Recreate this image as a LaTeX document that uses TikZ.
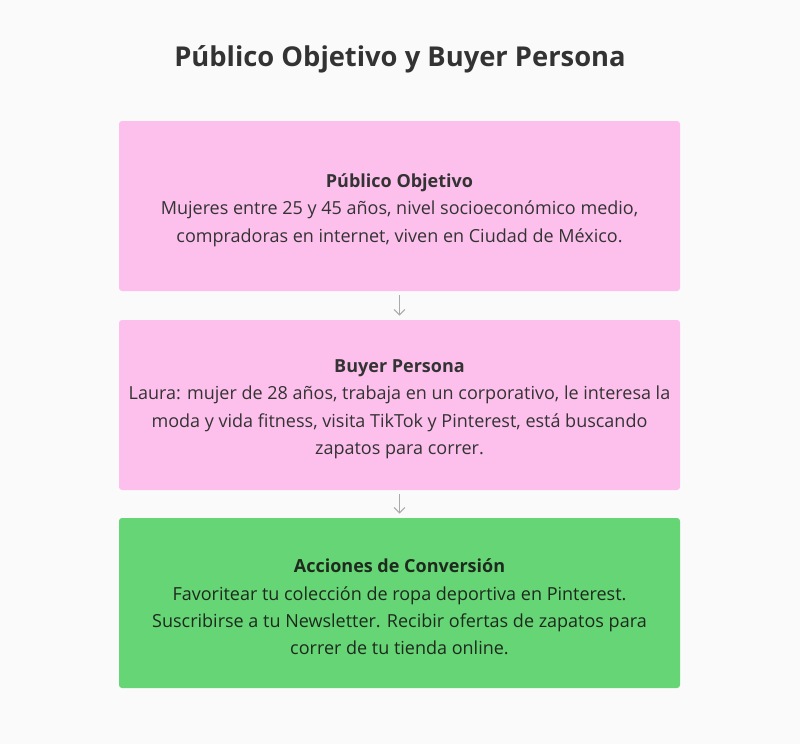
\documentclass[tikz,border=0pt]{standalone}
\usepackage{fontspec}
\setmainfont{Open Sans}
\usetikzlibrary{arrows.meta}
\definecolor{bg}{HTML}{FAFAFA}
\definecolor{pinkbox}{HTML}{FDC0EC}
\definecolor{greenbox}{HTML}{66D575}
\definecolor{txt}{HTML}{333333}
\definecolor{txtg}{HTML}{1E2A1E}
\definecolor{arr}{HTML}{AAAAAA}
\tikzset{
  card/.style={draw=none, rounded corners=2.25pt, minimum width=420.75pt, minimum height=127.5pt, inner sep=0pt},
  cardtext/.style={align=center, font=\fontsize{13.5pt}{20.6pt}\selectfont, text=txt, inner sep=0pt},
  flowarrow/.style={draw=arr, line width=0.9pt, -{Straight Barb[length=4pt,width=8pt]}},
}
\begin{document}
\begin{tikzpicture}[x=0.75pt,y=-0.75pt]
\fill[bg] (0,0) rectangle (800,744);
\useasboundingbox (0,0) rectangle (800,744);
\node[font=\fontsize{20.5pt}{24pt}\selectfont\bfseries, text=txt] (title) at (400,59) {Público Objetivo y Buyer Persona};
\node[card, fill=pinkbox] (b1) at (399.5,206) {};
\node[card, fill=pinkbox] (b2) at (399.5,405) {};
\node[card, fill=greenbox] (b3) at (399.5,603) {};
\node[cardtext] (t1) at ([yshift=-3pt]b1.center) {{\bfseries Público Objetivo}\\Mujeres entre 25 y 45 años, nivel socioeconómico medio,\\compradoras en internet, viven en Ciudad de México.};
\node[cardtext] (t2) at ([yshift=-3pt]b2.center) {{\bfseries Buyer Persona}\\Laura: mujer de 28 años, trabaja en un corporativo, le interesa la\\moda y vida fitness, visita TikTok y Pinterest, está buscando\\zapatos para correr.};
\node[cardtext, text=txtg] (t3) at ([yshift=-3pt]b3.center) {{\bfseries Acciones de Conversión}\\Favoritear tu colección de ropa deportiva en Pinterest.\\Suscribirse a tu Newsletter. Recibir ofertas de zapatos para\\correr de tu tienda online.};
\draw[flowarrow] ([yshift=-3pt]b1.south) -- ([yshift=3pt]b2.north);
\draw[flowarrow] ([yshift=-3pt]b2.south) -- ([yshift=3pt]b3.north);
\end{tikzpicture}
\end{document}
